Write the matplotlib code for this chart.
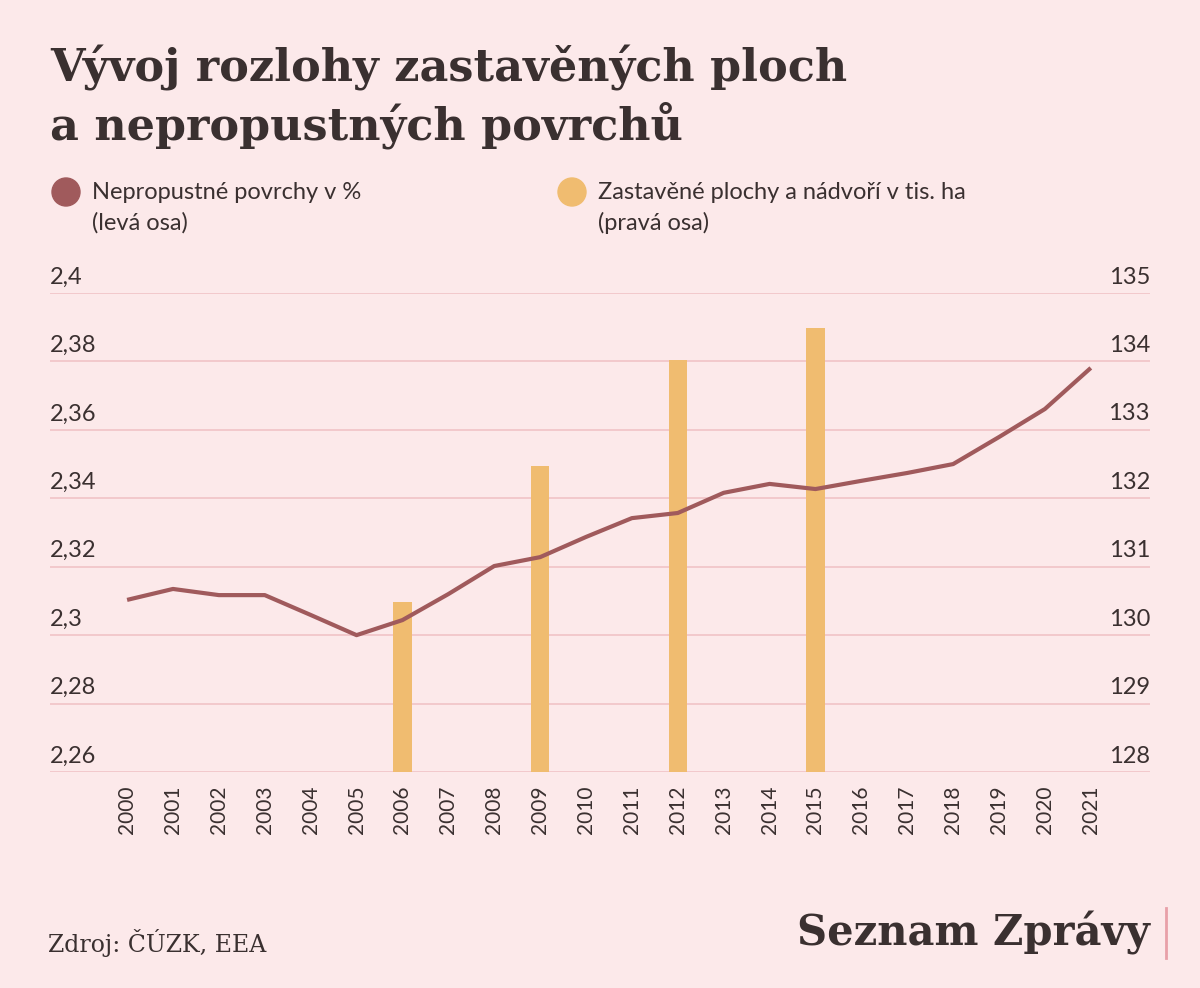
import matplotlib
matplotlib.use("Agg")
import matplotlib.pyplot as plt
import matplotlib.transforms as mtransforms
from matplotlib.patches import Ellipse

years = list(range(2000, 2022))
impervious_pct = [2.3103, 2.3135, 2.3117, 2.3117, 2.3059, 2.300, 2.3044, 2.312,
                  2.3202, 2.3228, 2.3287, 2.3342, 2.3357, 2.3416, 2.3442, 2.3427,
                  2.3451, 2.3474, 2.350, 2.3579, 2.3661, 2.3781]
bar_years = [2006, 2009, 2012, 2015]
built_area = [130.49, 132.47, 134.02, 134.49]
left_ticks = [2.26, 2.28, 2.30, 2.32, 2.34, 2.36, 2.38, 2.40]
left_labels = ["2,26", "2,28", "2,3", "2,32", "2,34", "2,36", "2,38", "2,4"]
right_ticks = [128, 129, 130, 131, 132, 133, 134, 135]

bg = "#fce9ea"
line_c = "#a05a5c"
bar_c = "#f0bc70"
grid_c = "#f0c3c7"
text_c = "#3a3030"
sans = "Lato"

W, H = 1200, 988
fig = plt.figure(figsize=(W / 100, H / 100), dpi=100, facecolor=bg)
ax = fig.add_axes([50 / W, 1 - 772 / H, 1100 / W, (772 - 293) / H])
ax.set_facecolor(bg)
ax2 = ax.twinx()
ax.set_zorder(2)
ax.patch.set_visible(False)

ax.set_xlim(1998.32, 2022.29)
ax.set_ylim(2.26, 2.40)
ax2.set_ylim(128, 135)

# gridlines on the right-axis layer so the bars cover them
for t in right_ticks:
    ax2.axhline(t, color=grid_c, lw=1.2, zorder=0)
ax2.bar(bar_years, [v - 128 for v in built_area], bottom=128, width=0.4,
        color=bar_c, zorder=1)
ax.plot(years, impervious_pct, color=line_c, lw=3, zorder=3, solid_capstyle="butt")

for a in (ax, ax2):
    for s in a.spines.values():
        s.set_visible(False)
    a.set_yticks([])
ax.set_xticks(years)
ax.set_xticklabels([str(y) for y in years], rotation=90, fontsize=15,
                   family=sans, color=text_c)
ax.tick_params(axis="x", length=0, pad=10)

off = mtransforms.offset_copy(ax.transData, fig=fig, x=0, y=16, units="dots")
tl = mtransforms.blended_transform_factory(ax.transAxes, off)
for t, lab in zip(left_ticks, left_labels):
    ax.text(0, t, lab, transform=tl, ha="left", va="center", fontsize=17,
            family=sans, color=text_c)
off2 = mtransforms.offset_copy(ax2.transData, fig=fig, x=0, y=16, units="dots")
tr = mtransforms.blended_transform_factory(ax2.transAxes, off2)
for t in right_ticks:
    ax2.text(1, t, str(t), transform=tr, ha="right", va="center", fontsize=17,
             family=sans, color=text_c)

fig.text(50 / W, 1 - 68 / H, "Vývoj rozlohy zastavěných ploch", fontsize=32,
         family="DejaVu Serif", weight="bold", color=text_c, va="center")
fig.text(50 / W, 1 - 125 / H, "a nepropustných povrchů", fontsize=32,
         family="DejaVu Serif", weight="bold", color=text_c, va="center")

for cx, col in ((66, line_c), (572, bar_c)):
    fig.patches.append(Ellipse((cx / W, 1 - 192 / H), 28 / W, 28 / H,
                               transform=fig.transFigure, color=col))
fig.text(92 / W, 1 - 192 / H, "Nepropustné povrchy v %", fontsize=17, family=sans,
         color=text_c, va="center")
fig.text(92 / W, 1 - 223 / H, "(levá osa)", fontsize=17, family=sans,
         color=text_c, va="center")
fig.text(598 / W, 1 - 192 / H, "Zastavěné plochy a nádvoří v tis. ha", fontsize=17,
         family=sans, color=text_c, va="center")
fig.text(598 / W, 1 - 223 / H, "(pravá osa)", fontsize=17, family=sans,
         color=text_c, va="center")

fig.text(48 / W, 1 - 943 / H, "Zdroj: ČÚZK, EEA", fontsize=17, family="DejaVu Serif",
         color=text_c, va="center")
fig.text(1150 / W, 1 - 933 / H, "Seznam Zprávy", fontsize=30, family="DejaVu Serif",
         weight="bold", color=text_c, va="center", ha="right")
fig.add_artist(plt.Line2D([1166 / W, 1166 / W], [1 - 958 / H, 1 - 908 / H],
                          color="#e8a0a8", lw=2))

fig.savefig("out.png", dpi=100, facecolor=bg)
